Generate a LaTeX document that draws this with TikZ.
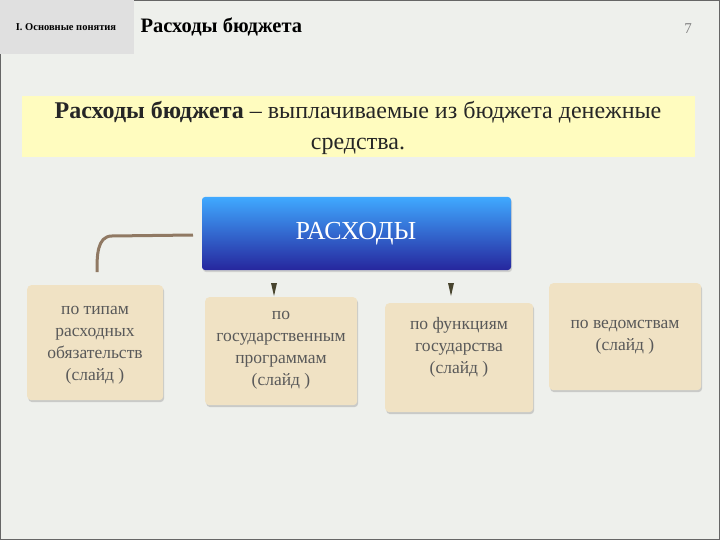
\documentclass[tikz,border=0pt]{standalone}
\usepackage{fontspec}
\setmainfont{Liberation Serif}
\usetikzlibrary{shadows}
\begin{document}
\begin{tikzpicture}[x=1pt,y=-1pt,
  catbox/.style={draw=none,fill=tan,rounded corners=4pt,drop shadow={shadow xshift=1pt,shadow yshift=-2pt,fill=gray!70},
    anchor=north west},
  cattext/.style={text=black!65,font=\fontsize{17.5}{22}\selectfont,align=center},
  tip/.style={fill=black!65!olive,draw=none}]
\definecolor{tan}{RGB}{240,226,196}
\definecolor{bg}{RGB}{238,240,236}
\fill[bg] (0,0) rectangle (720,540);
\draw[black!60,line width=1pt] (0.5,0.5) rectangle (719.5,539.5);
\node[fill=black!12,minimum width=134,minimum height=54,anchor=north west,inner sep=0] (hdr) at (0,0) {};
\node[font=\fontsize{10.5}{12}\selectfont\bfseries] (sec) at (66,27) {I. Основные понятия};
\node[font=\fontsize{20.5}{22}\selectfont\bfseries,anchor=west] (title) at (137,27) {Расходы бюджета};
\node[font=\fontsize{15}{16}\selectfont,text=black!50] (num) at (688,29) {7};
\node[fill=yellow!25!white,minimum width=673,minimum height=61,anchor=north west,inner sep=0] (defband) at (22,96) {};
\node[font=\fontsize{24}{31}\selectfont,align=center,text=black!85] (def) at (358,128) {\textbf{Расходы бюджета} – выплачиваемые из бюджета денежные\\средства.};
\shade[top color=cyan!55!blue!75,bottom color=blue!55!black!85,rounded corners=3pt,drop shadow={shadow xshift=1pt,shadow yshift=-2pt,fill=gray!60}] (202,197) rectangle (511,270);
\node[text=white,font=\fontsize{26}{28}\selectfont] (rasx) at (356,234) {РАСХОДЫ};
\node[catbox,minimum width=136,minimum height=115] (b1) at (27,285) {};
\node[cattext] at (95,345) {по типам\\расходных\\обязательств\\(слайд )};
\node[catbox,minimum width=152,minimum height=108] (b2) at (205,297) {};
\node[cattext] at (281,350) {по\\государственным\\программам\\(слайд )};
\node[catbox,minimum width=148,minimum height=109] (b3) at (385,303) {};
\node[cattext] at (459,347) {по функциям\\государства\\(слайд )};
\node[catbox,minimum width=152,minimum height=107] (b4) at (549,283) {};
\node[cattext] at (625,337) {по ведомствам\\(слайд )};
\coordinate (c1) at (193,235);
\coordinate (c2) at (97,272);
\draw[line width=3pt,black!50!brown!70] (c1) -- (112,236) to[out=180,in=90] (c2);
\fill[tip] (271,283) -- (277,283) -- (274,296) -- cycle;
\fill[tip] (448,283) -- (454,283) -- (451,296) -- cycle;
\end{tikzpicture}
\end{document}
